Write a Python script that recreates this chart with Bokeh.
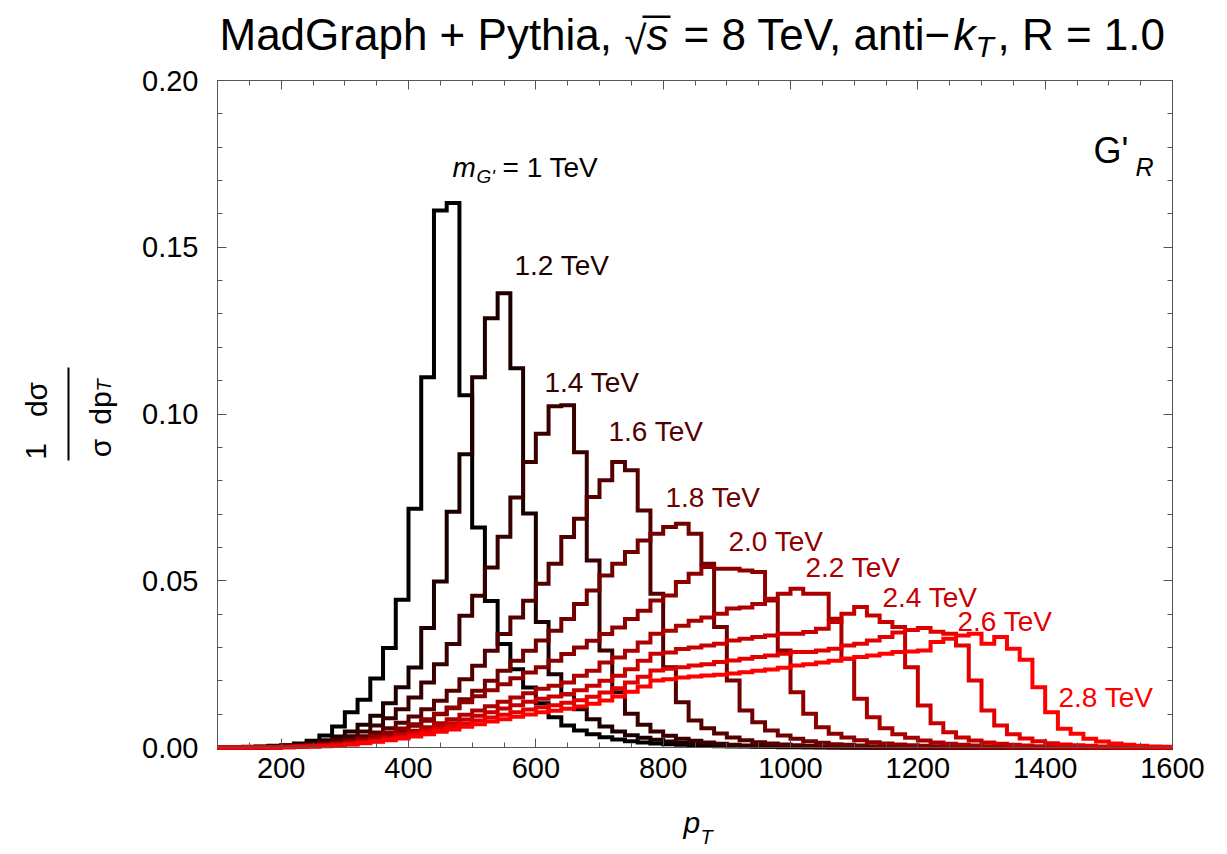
import numpy as np
from bokeh.plotting import figure
from bokeh.models import Range1d, LinearAxis, FixedTicker, PrintfTickFormatter, Label, BoxAnnotation
from bokeh.embed import file_html
from bokeh.resources import INLINE

# ---------------- data ----------------
bin_edges = list(range(100, 1601, 20))          # 75 bins of 20 GeV
mass_labels = ["1 TeV", "1.2 TeV", "1.4 TeV", "1.6 TeV", "1.8 TeV",
               "2.0 TeV", "2.2 TeV", "2.4 TeV", "2.6 TeV", "2.8 TeV"]
x_ticks = [200, 400, 600, 800, 1000, 1200, 1400, 1600]
x_minor = list(range(100, 1601, 50))
y_ticks = [0.0, 0.05, 0.10, 0.15, 0.20]
y_minor = [round(0.01 * i, 2) for i in range(21)]

h_1000 = [0.0001, 0.0001, 0.0002, 0.0003, 0.0005, 0.0007, 0.0012, 0.0020, 0.0036, 0.0063,
          0.0106, 0.0143, 0.0207, 0.0298, 0.0443, 0.0716, 0.1110, 0.1610, 0.1633, 0.1056,
          0.0660, 0.0439, 0.0310, 0.0235, 0.0180, 0.0133, 0.0091, 0.0066, 0.0051, 0.0040,
          0.0031, 0.0024, 0.0019, 0.0015, 0.0012, 0.0010, 0.0008, 0.0006, 0.0005, 0.0004,
          0.0003, 0.0003, 0.0002, 0.0002, 0.0001, 0.0001, 0.0001, 0.0001, 0.0, 0.0,
          0.0, 0.0, 0.0, 0.0, 0.0, 0.0, 0.0, 0.0, 0.0, 0.0,
          0.0, 0.0, 0.0, 0.0, 0.0, 0.0, 0.0, 0.0, 0.0, 0.0,
          0.0, 0.0, 0.0, 0.0, 0.0]
h_1200 = [0.0, 0.0001, 0.0001, 0.0002, 0.0004, 0.0006, 0.0009, 0.0014, 0.0022, 0.0033,
          0.0048, 0.0068, 0.0095, 0.0133, 0.0181, 0.0240, 0.0358, 0.0498, 0.0707, 0.0879,
          0.1110, 0.1287, 0.1362, 0.1137, 0.0702, 0.0376, 0.0220, 0.0160, 0.0115, 0.0085,
          0.0063, 0.0048, 0.0037, 0.0029, 0.0023, 0.0018, 0.0014, 0.0011, 0.0009, 0.0007,
          0.0005, 0.0004, 0.0003, 0.0003, 0.0002, 0.0002, 0.0001, 0.0001, 0.0001, 0.0,
          0.0, 0.0, 0.0, 0.0, 0.0, 0.0, 0.0, 0.0, 0.0, 0.0,
          0.0, 0.0, 0.0, 0.0, 0.0, 0.0, 0.0, 0.0, 0.0, 0.0,
          0.0, 0.0, 0.0, 0.0, 0.0]
h_1400 = [0.0, 0.0, 0.0001, 0.0001, 0.0002, 0.0004, 0.0006, 0.0010, 0.0016, 0.0024,
          0.0034, 0.0048, 0.0066, 0.0088, 0.0115, 0.0150, 0.0195, 0.0250, 0.0310, 0.0395,
          0.0455, 0.0540, 0.0632, 0.0750, 0.0856, 0.0941, 0.1023, 0.1026, 0.0885, 0.0561,
          0.0291, 0.0166, 0.0101, 0.0068, 0.0048, 0.0035, 0.0026, 0.0020, 0.0015, 0.0011,
          0.0008, 0.0006, 0.0005, 0.0004, 0.0003, 0.0002, 0.0002, 0.0001, 0.0001, 0.0001,
          0.0, 0.0, 0.0, 0.0, 0.0, 0.0, 0.0, 0.0, 0.0, 0.0,
          0.0, 0.0, 0.0, 0.0, 0.0, 0.0, 0.0, 0.0, 0.0, 0.0,
          0.0, 0.0, 0.0, 0.0, 0.0]
h_1600 = [0.0, 0.0, 0.0, 0.0001, 0.0002, 0.0003, 0.0005, 0.0008, 0.0012, 0.0018,
          0.0025, 0.0034, 0.0045, 0.0058, 0.0074, 0.0093, 0.0115, 0.0140, 0.0170, 0.0205,
          0.0245, 0.0290, 0.0340, 0.0390, 0.0440, 0.0491, 0.0551, 0.0631, 0.0686, 0.0751,
          0.0801, 0.0856, 0.0831, 0.0711, 0.0461, 0.0241, 0.0136, 0.0081, 0.0058, 0.0042,
          0.0030, 0.0022, 0.0016, 0.0012, 0.0009, 0.0007, 0.0005, 0.0004, 0.0003, 0.0002,
          0.0002, 0.0001, 0.0001, 0.0, 0.0, 0.0, 0.0, 0.0, 0.0, 0.0,
          0.0, 0.0, 0.0, 0.0, 0.0, 0.0, 0.0, 0.0, 0.0, 0.0,
          0.0, 0.0, 0.0, 0.0, 0.0]
h_1800 = [0.0, 0.0, 0.0, 0.0, 0.0001, 0.0002, 0.0003, 0.0005, 0.0008, 0.0011,
          0.0016, 0.0022, 0.0030, 0.0040, 0.0050, 0.0065, 0.0080, 0.0100, 0.0120, 0.0145,
          0.0170, 0.0200, 0.0230, 0.0260, 0.0290, 0.0321, 0.0350, 0.0385, 0.0430, 0.0471,
          0.0516, 0.0551, 0.0586, 0.0621, 0.0641, 0.0661, 0.0671, 0.0641, 0.0551, 0.0361,
          0.0201, 0.0111, 0.0076, 0.0051, 0.0036, 0.0026, 0.0019, 0.0014, 0.0010, 0.0008,
          0.0006, 0.0004, 0.0003, 0.0002, 0.0002, 0.0001, 0.0001, 0.0, 0.0, 0.0,
          0.0, 0.0, 0.0, 0.0, 0.0, 0.0, 0.0, 0.0, 0.0, 0.0,
          0.0, 0.0, 0.0, 0.0, 0.0]
h_2000 = [0.0, 0.0, 0.0, 0.0, 0.0001, 0.0002, 0.0004, 0.0006, 0.0009, 0.0013,
          0.0019, 0.0026, 0.0035, 0.0045, 0.0057, 0.0070, 0.0085, 0.0101, 0.0118, 0.0136,
          0.0154, 0.0172, 0.0190, 0.0208, 0.0225, 0.0241, 0.0260, 0.0280, 0.0300, 0.0320,
          0.0340, 0.0360, 0.0385, 0.0410, 0.0441, 0.0456, 0.0496, 0.0521, 0.0541, 0.0536,
          0.0536, 0.0531, 0.0526, 0.0441, 0.0291, 0.0166, 0.0101, 0.0061, 0.0041, 0.0030,
          0.0022, 0.0016, 0.0012, 0.0009, 0.0007, 0.0005, 0.0004, 0.0003, 0.0002, 0.0002,
          0.0001, 0.0001, 0.0, 0.0, 0.0, 0.0, 0.0, 0.0, 0.0, 0.0,
          0.0, 0.0, 0.0, 0.0, 0.0]
h_2200 = [0.0, 0.0, 0.0, 0.0, 0.0001, 0.0002, 0.0003, 0.0005, 0.0007, 0.0010,
          0.0014, 0.0019, 0.0025, 0.0032, 0.0041, 0.0050, 0.0061, 0.0073, 0.0085, 0.0098,
          0.0111, 0.0124, 0.0137, 0.0150, 0.0163, 0.0176, 0.0185, 0.0195, 0.0215, 0.0230,
          0.0255, 0.0270, 0.0290, 0.0315, 0.0341, 0.0350, 0.0365, 0.0380, 0.0390, 0.0401,
          0.0417, 0.0420, 0.0430, 0.0446, 0.0461, 0.0476, 0.0461, 0.0461, 0.0386, 0.0266,
          0.0146, 0.0091, 0.0058, 0.0040, 0.0029, 0.0021, 0.0015, 0.0011, 0.0008, 0.0006,
          0.0004, 0.0003, 0.0002, 0.0002, 0.0001, 0.0001, 0.0, 0.0, 0.0, 0.0,
          0.0, 0.0, 0.0, 0.0, 0.0]
h_2400 = [0.0, 0.0, 0.0, 0.0, 0.0001, 0.0002, 0.0003, 0.0004, 0.0006, 0.0009,
          0.0012, 0.0017, 0.0022, 0.0028, 0.0036, 0.0044, 0.0053, 0.0063, 0.0073, 0.0084,
          0.0095, 0.0106, 0.0117, 0.0127, 0.0137, 0.0146, 0.0153, 0.0160, 0.0172, 0.0185,
          0.0200, 0.0215, 0.0235, 0.0260, 0.0281, 0.0285, 0.0295, 0.0300, 0.0306, 0.0311,
          0.0321, 0.0326, 0.0331, 0.0336, 0.0341, 0.0341, 0.0346, 0.0356, 0.0376, 0.0401,
          0.0421, 0.0396, 0.0376, 0.0361, 0.0241, 0.0126, 0.0073, 0.0046, 0.0030, 0.0021,
          0.0015, 0.0011, 0.0008, 0.0006, 0.0004, 0.0003, 0.0002, 0.0001, 0.0001, 0.0,
          0.0, 0.0, 0.0, 0.0, 0.0]
h_2600 = [0.0, 0.0, 0.0, 0.0, 0.0, 0.0001, 0.0002, 0.0003, 0.0005, 0.0007,
          0.0010, 0.0014, 0.0019, 0.0025, 0.0031, 0.0038, 0.0046, 0.0054, 0.0063, 0.0072,
          0.0081, 0.0090, 0.0098, 0.0106, 0.0114, 0.0121, 0.0127, 0.0134, 0.0142, 0.0152,
          0.0165, 0.0178, 0.0195, 0.0212, 0.0231, 0.0236, 0.0241, 0.0246, 0.0250, 0.0256,
          0.0261, 0.0266, 0.0271, 0.0276, 0.0281, 0.0286, 0.0286, 0.0291, 0.0296, 0.0306,
          0.0311, 0.0321, 0.0331, 0.0345, 0.0352, 0.0358, 0.0347, 0.0341, 0.0306, 0.0201,
          0.0111, 0.0066, 0.0040, 0.0027, 0.0019, 0.0013, 0.0009, 0.0007, 0.0005, 0.0003,
          0.0002, 0.0001, 0.0001, 0.0, 0.0]
h_2800 = [0.0, 0.0, 0.0, 0.0, 0.0, 0.0001, 0.0002, 0.0003, 0.0004, 0.0006,
          0.0009, 0.0013, 0.0017, 0.0022, 0.0027, 0.0033, 0.0040, 0.0047, 0.0054, 0.0062,
          0.0070, 0.0078, 0.0085, 0.0092, 0.0099, 0.0106, 0.0110, 0.0116, 0.0123, 0.0131,
          0.0141, 0.0153, 0.0167, 0.0183, 0.0201, 0.0205, 0.0210, 0.0213, 0.0216, 0.0218,
          0.0222, 0.0226, 0.0230, 0.0234, 0.0239, 0.0246, 0.0250, 0.0255, 0.0260, 0.0266,
          0.0271, 0.0276, 0.0281, 0.0286, 0.0288, 0.0291, 0.0316, 0.0326, 0.0336, 0.0341,
          0.0311, 0.0331, 0.0296, 0.0263, 0.0181, 0.0106, 0.0056, 0.0041, 0.0026, 0.0018,
          0.0012, 0.0008, 0.0005, 0.0003, 0.0002]

series = [h_1000, h_1200, h_1400, h_1600, h_1800, h_2000, h_2200, h_2400, h_2600, h_2800]

# ---------------- layout ----------------
W, H = 1227, 854
FL, FR, FT, FB = 217, 1172, 80, 747          # where the plot box sits on the canvas
XMIN, XMAX, YMIN, YMAX = 100, 1600, 0.0, 0.2
FONT = "Liberation Sans"
colors = ["#%02x0000" % int(round(255 * k / 9)) for k in range(10)]

# the frame covers the whole canvas; the plot box is drawn with fixed-location axes
sx = (FR - FL) / (XMAX - XMIN)
sy = (FB - FT) / (YMAX - YMIN)
x_range = Range1d(XMIN - FL / sx, XMAX + (W - FR) / sx)
y_range = Range1d(YMIN - (H - FB) / sy, YMAX + FT / sy)

p = figure(width=W, height=H, output_backend="svg", toolbar_location=None,
           x_range=x_range, y_range=y_range,
           x_axis_location=None, y_axis_location=None,
           min_border_left=0, min_border_right=0, min_border_top=0, min_border_bottom=0)
p.outline_line_color = None
p.xgrid.visible = False
p.ygrid.visible = False
p.background_fill_color = "white"
p.border_fill_color = "white"

AX = "#555555"

def style_axis(ax, labels):
    ax.axis_line_color = AX
    ax.axis_line_width = 1
    ax.major_tick_line_color = AX
    ax.minor_tick_line_color = AX
    ax.major_tick_in = 9
    ax.major_tick_out = 0
    ax.minor_tick_in = 5
    ax.minor_tick_out = 0
    ax.major_label_text_font = FONT
    ax.major_label_text_font_size = "29px" if labels else "0px"
    ax.major_label_text_color = "black"

xt = FixedTicker(ticks=x_ticks, minor_ticks=x_minor)
yt = FixedTicker(ticks=y_ticks, minor_ticks=y_minor)

bottom = LinearAxis(ticker=xt, fixed_location=YMIN, bounds=(XMIN, XMAX))
style_axis(bottom, True)
bottom.major_label_standoff = 10
p.add_layout(bottom, "below")

top = LinearAxis(ticker=xt, fixed_location=YMAX, bounds=(XMIN, XMAX))
style_axis(top, False)
top.major_label_overrides = {t: "" for t in x_ticks}
p.add_layout(top, "above")

left = LinearAxis(ticker=yt, formatter=PrintfTickFormatter(format="%.2f"),
                  fixed_location=XMIN, bounds=(YMIN, YMAX))
style_axis(left, True)
left.major_label_standoff = 19
p.add_layout(left, "left")

right = LinearAxis(ticker=yt, fixed_location=XMAX, bounds=(YMIN, YMAX))
style_axis(right, False)
right.major_label_overrides = {t: "" for t in y_ticks}
p.add_layout(right, "right")

# ---------------- histograms ----------------
for vals, c in zip(series, colors):
    ys = list(vals) + [vals[-1]]
    p.step(x=bin_edges, y=ys, mode="after", line_color=c, line_width=4,
           line_join="miter")

# ---------------- text helpers (canvas pixel positions, vertical centre) ----------------
def txt(xp, yp, s, size, color="black", italic=False, align="left", angle=0.0):
    p.add_layout(Label(x=xp, y=H - yp, x_units="screen", y_units="screen",
                       text=s, text_font=FONT, text_font_size=f"{size}px",
                       text_font_style="italic" if italic else "normal",
                       text_color=color, text_align=align, text_baseline="middle",
                       angle=angle))

def box(x0, x1, y0, y1, color="black"):
    p.add_layout(BoxAnnotation(left=x0, right=x1, top=H - y0, bottom=H - y1,
                               left_units="screen", right_units="screen",
                               top_units="screen", bottom_units="screen",
                               fill_color=color, fill_alpha=1.0, line_color=None))

# title
TC = 34
txt(219, TC, "MadGraph + Pythia,", 44)
txt(624, TC + 5, "\u221a", 40)
txt(646, TC, "s", 44, italic=True)
box(642, 670, 15, 17.5)
txt(683, TC, "= 8 TeV, anti\u2212", 44)
txt(953, TC, "k", 44, italic=True)
txt(975, TC + 12, "T", 30, italic=True)
txt(997, TC, ", R = 1.0", 44)

# y-axis label (fraction, rotated)
ang = np.pi / 2
txt(35.5, 451, "1", 30, align="center", angle=ang)
txt(35.5, 399, "d\u03c3", 30, align="center", angle=ang)
box(67, 69, 367, 460)
txt(99.5, 447.5, "\u03c3", 30, align="center", angle=ang)
txt(99.5, 407.5, "dp", 30, align="center", angle=ang)
txt(103, 385, "T", 20, italic=True, align="center", angle=ang)

# x-axis label
txt(683, 821.5, "p", 30, italic=True)
txt(700, 836, "T", 20, italic=True)

# curve labels
txt(452, 167, "m", 28, italic=True)
txt(476, 176, "G'", 19, italic=True)
txt(502, 167, "= " + mass_labels[0], 28)
label_pos = [(514, 265), (544, 382), (608, 431), (665, 497), (728, 541),
             (805, 567), (882, 597), (957, 621), (1058, 697)]
for (xp, yc), s, c in zip(label_pos, mass_labels[1:], colors[1:]):
    txt(xp, yc, s, 28, color=c)

# model label
txt(1093, 150, "G'", 36)
txt(1135, 166, "R", 25, italic=True)

open("out.html", "w").write(file_html(p, INLINE))
